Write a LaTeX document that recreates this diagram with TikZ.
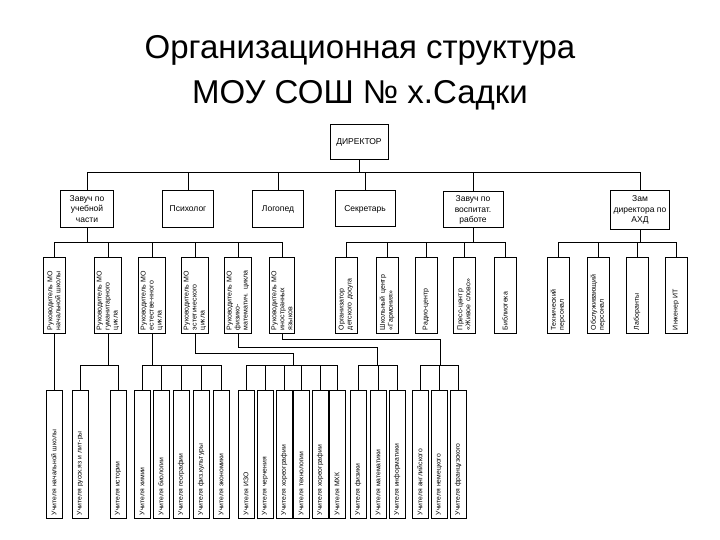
\documentclass[tikz,border=0pt]{standalone}
\usepackage{fontspec}
\setmainfont{Liberation Sans}
\begin{document}
\begin{tikzpicture}[x=1pt,y=-1pt,
  box/.style={draw,line width=1pt,inner sep=1pt,font=\fontsize{8.5}{10.5}\selectfont,align=center},
  vb/.style={draw,line width=1pt,rotate=90,inner sep=2pt,font=\fontsize{7}{8}\selectfont,align=left},
  vm/.style={vb,minimum width=76pt,minimum height=22pt,text width=70pt},
  vt/.style={vb,minimum width=128pt,minimum height=16pt,text width=122pt,font=\fontsize{6.8}{8}\selectfont},
  ln/.style={line width=0.8pt}]
\useasboundingbox (0,0) rectangle (720,540);
\node[font=\fontsize{33}{40}\selectfont] (t1) at (360,50) {Организационная структура};
\node[font=\fontsize{33}{40}\selectfont] (t2) at (360,95) {МОУ СОШ № х.Садки};
\node[box,minimum width=58pt,minimum height=35pt] (dir) at (359,142) {ДИРЕКТОР};
\node[box,minimum width=53pt,minimum height=37pt] (z1) at (87,209) {Завуч по\\учебной\\части};
\node[box,minimum width=51pt,minimum height=37pt] (psy) at (188,209) {Психолог};
\node[box,minimum width=51pt,minimum height=37pt] (log) at (278,209) {Логопед};
\node[box,minimum width=60pt,minimum height=36pt] (sec) at (365,209) {Секретарь};
\node[box,minimum width=60pt,minimum height=36pt] (zv) at (473,210) {Завуч по\\воспитат.\\работе};
\node[box,minimum width=59pt,minimum height=39pt] (ahd) at (640,210) {Зам\\директора по\\АХД};
% row 3
\node[vm] (m1) at (54,295) {Руководитель МО\\начальной школы};
\node[vm] (m2) at (108,295) {Руководитель МО\\гуманитарного\\цикла};
\node[vm] (m3) at (152,295) {Руководитель МО\\естестве-нного\\цикла};
\node[vm] (m4) at (195,295) {Руководитель МО\\эстетического\\цикла};
\node[vm] (m5) at (238,295) {Руководитель МО\\физико-\\математич. цикла};
\node[vm] (m6) at (282,295) {Руководитель МО\\иностранных\\языков};
\node[vm] (o1) at (346,295) {Организатор\\детского досуга};
\node[vm] (o2) at (387,295) {Школьный центр\\«Гармония»};
\node[vm] (o3) at (426,295) {Радио-центр};
\node[vm] (o4) at (464,295) {Пресс-центр\\«Живое слово»};
\node[vm] (o5) at (505,295) {Библиотека};
\node[vm] (a1) at (558,295) {Технический\\персонал};
\node[vm] (a2) at (598,295) {Обслуживающий\\персонал};
\node[vm] (a3) at (637,295) {Лаборанты};
\node[vm] (a4) at (676,295) {Инженер ИТ};
% row 4
\node[vt] (u1) at (54,454) {Учителя начальной школы};
\node[vt] (u2) at (80,454) {Учителя русск.яз и лит-ры};
\node[vt] (u3) at (118,454) {Учителя истории};
\node[vt] (u4) at (142,454) {Учителя химии};
\node[vt] (u5) at (161,454) {Учителя биологии};
\node[vt] (u6) at (181,454) {Учителя географии};
\node[vt] (u7) at (201,454) {Учителя физ.культуры};
\node[vt] (u8) at (221,454) {Учителя экономики};
\node[vt] (u9) at (246,454) {Учителя ИЗО};
\node[vt] (u10) at (265,454) {Учителя черчения};
\node[vt] (u11) at (284,454) {Учителя хореографии};
\node[vt] (u12) at (301,454) {Учителя технологии};
\node[vt] (u13) at (320,454) {Учителя хореографии};
\node[vt] (u14) at (337,454) {Учителя МХК};
\node[vt] (u15) at (358,454) {Учителя физики};
\node[vt] (u16) at (378,454) {Учителя математики};
\node[vt] (u17) at (397,454) {Учителя информатики};
\node[vt] (u18) at (420,454) {Учителя английского};
\node[vt] (u19) at (439,454) {Учителя немецкого};
\node[vt] (u20) at (458,454) {Учителя французского};
% connectors
\coordinate (b1) at (0,172);
\coordinate (b2) at (0,242);
\coordinate (b3) at (0,365);
\draw[ln] (dir.south) -- (dir.south |- b1);
\draw[ln] (z1.north |- b1) -- (ahd.north |- b1);
\foreach \n in {z1,psy,log,sec,zv,ahd} \draw[ln] (\n.north) -- (\n.north |- b1);
\draw[ln] (z1.south) -- (z1.south |- b2);
\draw[ln] (m1.east |- b2) -- (m6.east |- b2);
\foreach \n in {m1,m2,m3,m4,m5,m6} \draw[ln] (\n.east) -- (\n.east |- b2);
\draw[ln] (zv.south) -- (zv.south |- b2);
\draw[ln] (o1.east |- b2) -- (o5.east |- b2);
\foreach \n in {o1,o2,o3,o4,o5} \draw[ln] (\n.east) -- (\n.east |- b2);
\draw[ln] (ahd.south) -- (ahd.south |- b2);
\draw[ln] (a1.east |- b2) -- (a4.east |- b2);
\foreach \n in {a1,a2,a3,a4} \draw[ln] (\n.east) -- (\n.east |- b2);
% row 4 connectors
\draw[ln] (m1.west) -- (u1.east);
\draw[ln] (m2.west) -- (m2.west |- b3);
\draw[ln] (m3.west) -- (m3.west |- b3);
\coordinate (c4) at (293,353);
\draw[ln] (m4.west) |- (c4) -- (c4 |- b3);
\coordinate (c5) at (377,347);
\draw[ln] (m5.west) |- (c5) -- (c5 |- b3);
\coordinate (c6) at (440,339);
\draw[ln] (m6.west) |- (c6) -- (c6 |- b3);
\draw[ln] (u2.east |- b3) -- (u3.east |- b3);
\draw[ln] (u4.east |- b3) -- (u8.east |- b3);
\draw[ln] (u9.east |- b3) -- (u14.east |- b3);
\draw[ln] (u15.east |- b3) -- (u17.east |- b3);
\draw[ln] (u18.east |- b3) -- (u20.east |- b3);
\foreach \n in {u2,u3,u4,u5,u6,u7,u8,u9,u10,u11,u12,u13,u14,u15,u16,u17,u18,u19,u20} \draw[ln] (\n.east) -- (\n.east |- b3);
\end{tikzpicture}
\end{document}
